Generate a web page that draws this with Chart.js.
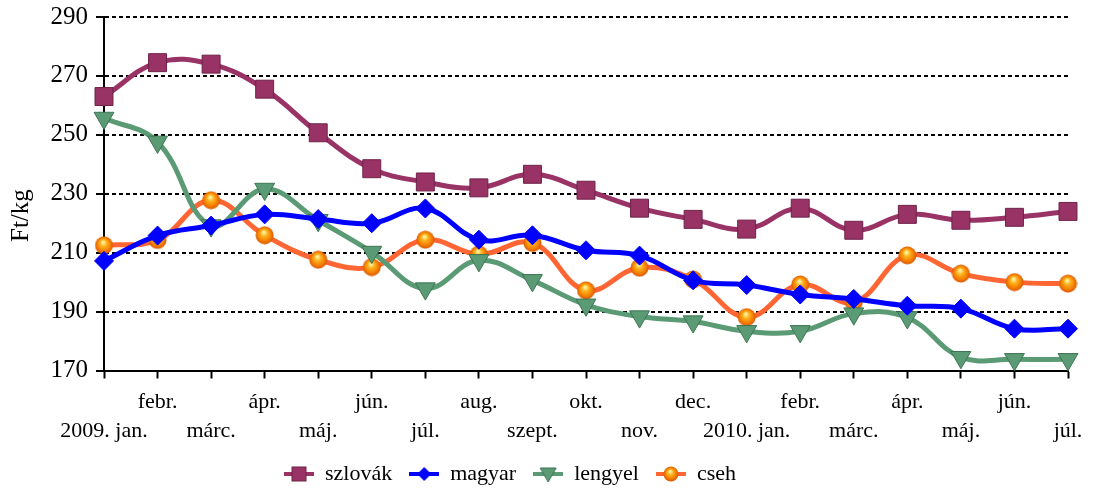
<!DOCTYPE html>
<html>
<head>
<meta charset="utf-8">
<script src="https://cdn.jsdelivr.net/npm/chart.js@4/dist/chart.umd.min.js"></script>
<style>
  html, body { margin: 0; padding: 0; background: #fff; }
</style>
</head>
<body>
<canvas id="chart" width="1094" height="491"></canvas>
<script>
const months = ['2009. jan.', 'febr.', 'márc.', 'ápr.', 'máj.', 'jún.', 'júl.', 'aug.', 'szept.', 'okt.', 'nov.', 'dec.',
  '2010. jan.', 'febr.', 'márc.', 'ápr.', 'máj.', 'jún.', 'júl.'];
const yTicks = [170, 190, 210, 230, 250, 270, 290];

const szlovak = [263, 274.5, 274, 265.5, 250.7, 238.5, 234, 232, 236.6, 231.2, 225.1, 221.3, 218, 225.1, 217.6, 223, 221, 222, 224];
const magyar = [207.2, 215.8, 219.2, 223, 221.4, 220, 225, 214.4, 215.9, 210.8, 209, 200.6, 199, 195.8, 194.3, 192, 191, 184.2, 184.2];
const lengyel = [255.7, 247.6, 219.2, 231.6, 221, 210.2, 197.8, 207.4, 200.6, 192.3, 188.3, 186.6, 183.3, 183.3, 189.3, 188, 174.5, 173.8, 173.8];
const cseh = [212.5, 214.3, 227.8, 215.9, 207.6, 205.1, 214.4, 209.4, 213.3, 197.2, 204.9, 200.9, 188.1, 199.2, 193.2, 209.1, 202.9, 200, 199.5];

const seriesNames = ['szlovák', 'magyar', 'lengyel', 'cseh'];
const colors = { szlovak: '#993366', magyar: '#0000ff', lengyel: '#5a9a74', cseh: '#ff6633' };

const FONT = 'Liberation Serif, "Times New Roman", serif';
const FS = 22;

function drawBall(g, cx, cy, r) {
  const grad = g.createRadialGradient(cx - r * 0.1, cy - r * 0.35, r * 0.1, cx, cy, r);
  grad.addColorStop(0, '#fff1a0');
  grad.addColorStop(0.3, '#ffb21e');
  grad.addColorStop(0.75, '#f27a00');
  grad.addColorStop(1, '#d85400');
  g.fillStyle = grad;
  g.beginPath();
  g.arc(cx, cy, r, 0, Math.PI * 2);
  g.fill();
}

function makeBall(d) {
  const c = document.createElement('canvas');
  c.width = d; c.height = d;
  drawBall(c.getContext('2d'), d / 2, d / 2, d / 2 - 0.5);
  return c;
}

function legendIcon(color, drawMarker) {
  const c = document.createElement('canvas');
  c.width = 30; c.height = 18;
  const g = c.getContext('2d');
  g.strokeStyle = color;
  g.lineWidth = 4;
  g.beginPath();
  g.moveTo(0, 9);
  g.lineTo(30, 9);
  g.stroke();
  drawMarker(g, 15, 9);
  return c;
}

const legendIcons = [
  legendIcon(colors.szlovak, (g, x, y) => {
    g.fillStyle = colors.szlovak; g.fillRect(x - 7, y - 7, 14, 14);
    g.strokeStyle = '#6e2249'; g.lineWidth = 1; g.strokeRect(x - 7, y - 7, 14, 14);
  }),
  legendIcon(colors.magyar, (g, x, y) => {
    g.fillStyle = colors.magyar; g.beginPath();
    g.moveTo(x, y - 7); g.lineTo(x + 7, y); g.lineTo(x, y + 7); g.lineTo(x - 7, y); g.closePath(); g.fill();
  }),
  legendIcon(colors.lengyel, (g, x, y) => {
    g.fillStyle = colors.lengyel; g.beginPath();
    g.moveTo(x - 8, y - 6); g.lineTo(x + 8, y - 6); g.lineTo(x, y + 8); g.closePath(); g.fill();
    g.strokeStyle = '#3f7554'; g.lineWidth = 1; g.stroke();
  }),
  legendIcon(colors.cseh, (g, x, y) => drawBall(g, x, y, 7.5))
];

const ball = makeBall(19);

// the legend sits a bit left of centre in the original
const legendShift = {
  id: 'legendShift',
  afterLayout(chart) {
    chart.legend.left -= 24;
    chart.legend.right -= 24;
  }
};

const common = { borderWidth: 5, tension: 0.4, clip: false, fill: false };

const ctx = document.getElementById('chart').getContext('2d');
new Chart(ctx, {
  type: 'line',
  data: {
    labels: months,
    datasets: [
      { ...common, label: seriesNames[0], data: szlovak, borderColor: colors.szlovak,
        pointStyle: 'rect', pointRadius: 12.7, pointBackgroundColor: colors.szlovak,
        pointBorderColor: '#6e2249', pointBorderWidth: 1 },
      { ...common, label: seriesNames[1], data: magyar, borderColor: colors.magyar,
        pointStyle: 'rectRot', pointRadius: 9.5, pointBackgroundColor: colors.magyar,
        pointBorderColor: colors.magyar, pointBorderWidth: 1 },
      { ...common, label: seriesNames[2], data: lengyel, borderColor: colors.lengyel,
        pointStyle: 'triangle', pointRotation: 180, pointRadius: 11.5, pointBackgroundColor: colors.lengyel,
        pointBorderColor: '#3f7554', pointBorderWidth: 1 },
      { ...common, label: seriesNames[3], data: cseh, borderColor: colors.cseh,
        pointStyle: ball, pointRadius: 9.5 }
    ]
  },
  plugins: [legendShift],
  options: {
    responsive: false,
    animation: false,
    layout: { padding: { top: 17, right: 26, bottom: -4, left: 0 } },
    plugins: {
      tooltip: { enabled: false },
      legend: {
        position: 'bottom',
        labels: {
          usePointStyle: true,
          pointStyleWidth: 30,
          padding: 17,
          color: '#000',
          font: { family: FONT, size: FS },
          generateLabels: (chart) => chart.data.datasets.map((ds, i) => ({
            text: ds.label,
            pointStyle: legendIcons[i],
            datasetIndex: i,
            fontColor: '#000',
            lineWidth: 0,
            strokeStyle: 'transparent',
            fillStyle: 'transparent'
          }))
        }
      }
    },
    scales: {
      x: {
        afterFit: (scale) => { scale.height = 75.5; },
        grid: { drawOnChartArea: false, drawTicks: true, tickLength: 8, tickColor: '#000', tickWidth: 2 },
        border: { display: true, color: '#000', width: 2 },
        ticks: {
          autoSkip: false,
          maxRotation: 0,
          padding: 9.5,
          color: '#000',
          font: { family: FONT, size: FS, lineHeight: 1.32 },
          callback: (v, i) => (i % 2 ? [months[i], ''] : ['', months[i]])
        }
      },
      y: {
        min: 170,
        max: 290,
        afterBuildTicks: (scale) => { scale.ticks = yTicks.map(v => ({ value: v })); },
        afterFit: (scale) => { scale.width = 104; },
        grid: { color: '#000', lineWidth: 2, tickLength: 8, tickColor: '#000', tickWidth: 2 },
        border: { display: true, color: '#000', width: 2, dash: [4, 3] },
        ticks: { padding: 8, color: '#000', font: { family: FONT, size: 25, lineHeight: 0.6 } },
        title: {
          display: true,
          text: 'Ft/kg       ',
          color: '#000',
          padding: { top: 6, bottom: 0 },
          font: { family: FONT, size: 25 }
        }
      }
    }
  }
});
</script>
</body>
</html>
